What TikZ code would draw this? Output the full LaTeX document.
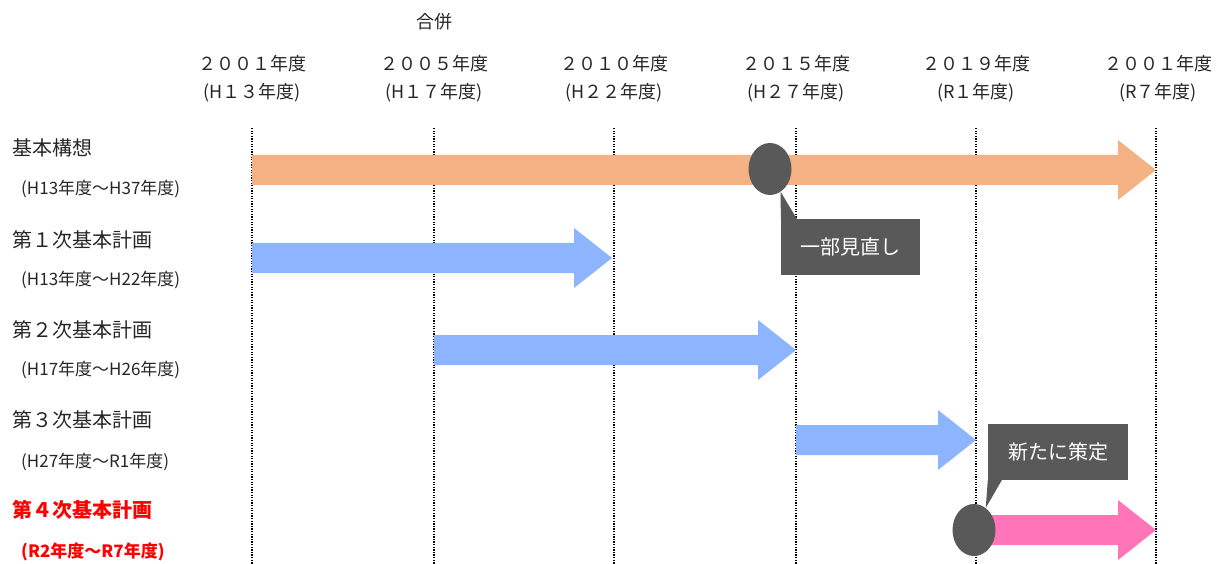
\documentclass[tikz,border=0pt]{standalone}
\usepackage{fontspec}
\setmainfont{Noto Sans CJK JP}
\usetikzlibrary{shapes.geometric,calc}
\definecolor{kousou}{HTML}{F4B183}
\definecolor{keikaku}{HTML}{8DB4FF}
\definecolor{shinki}{HTML}{FF75B8}
\definecolor{fuki}{HTML}{595959}
\definecolor{moji}{HTML}{262626}
\tikzset{
  blockarrow/.style={to path={($(\tikztostart)+(0,-15)$) -- ($(\tikztotarget)+(-38,-15)$)
    -- ($(\tikztotarget)+(-38,-30)$) -- (\tikztotarget) -- ($(\tikztotarget)+(-38,30)$)
    -- ($(\tikztotarget)+(-38,15)$) -- ($(\tikztostart)+(0,15)$) -- cycle}}
}
\begin{document}
\begin{tikzpicture}[x=1pt,y=-1pt, every node/.style={inner sep=0pt, text=moji},
	yearlbl/.style={font=\fontsize{18}{28}\selectfont, align=center},
	planlbl/.style={anchor=west, font=\fontsize{20}{24}\selectfont},
	kikan/.style={anchor=west, font=\fontsize{17}{20}\selectfont},
	grid/.style={line width=1.3pt, dash pattern=on 1.3pt off 1.3pt},
	marker/.style={ellipse, fill=fuki, minimum width=43, minimum height=52},
	callout/.style={fill=fuki, text=white, minimum width=140, minimum height=56, font=\fontsize{20}{24}\selectfont}]
		\useasboundingbox (0,0) rectangle (1221,564);
		
		\node (G) at (434,22) {\fontsize{18}{22}\selectfont 合併};
		\node[yearlbl] (Y1) at (252,79) {２００１年度\\(H１３年度)};
		\node[yearlbl] (Y2) at (434,79) {２００５年度\\(H１７年度)};
		\node[yearlbl] (Y3) at (614,79) {２０１０年度\\(H２２年度)};
		\node[yearlbl] (Y4) at (796,79) {２０１５年度\\(H２７年度)};
		\node[yearlbl] (Y5) at (976,79) {２０１９年度\\(R１年度)};
		\node[yearlbl] (Y6) at (1158,79) {２００１年度\\(R７年度)};
		
		\draw[grid] (252,128) -- (252,564);
		\draw[grid] (434,128) -- (434,564);
		\draw[grid] (614,128) -- (614,564);
		\draw[grid] (796,128) -- (796,564);
		\draw[grid] (976,128) -- (976,564);
		\draw[grid] (1156,128) -- (1156,564);
		
		\node[planlbl] (K) at (12,148) {基本構想};
		\node[kikan] (k) at (21,189) {(H13年度～H37年度)};
		\node[planlbl] (P1) at (12,240) {第１次基本計画};
		\node[kikan] (p1) at (21,280) {(H13年度～H22年度)};
		\node[planlbl] (P2) at (12,330) {第２次基本計画};
		\node[kikan] (p2) at (21,370) {(H17年度～H26年度)};
		\node[planlbl] (P3) at (12,420) {第３次基本計画};
		\node[kikan] (p3) at (21,462) {(H27年度～R1年度)};
		\node[planlbl, text=red, font=\fontsize{20}{24}\selectfont\bfseries] (P4) at (12,510) {第４次基本計画};
		\node[kikan, text=red, font=\fontsize{17}{20}\selectfont\bfseries] (p4) at (21,552) {(R2年度～R7年度)};
		
		\coordinate (A0) at (252,170);
		\coordinate (A1) at (1156,170);
		\coordinate (B0) at (252,258);
		\coordinate (B1) at (612,258);
		\coordinate (C0) at (434,350);
		\coordinate (C1) at (796,350);
		\coordinate (D0) at (796,440);
		\coordinate (D1) at (976,440);
		\coordinate (E0) at (974,530);
		\coordinate (E1) at (1156,530);
		
		\fill[kousou, blockarrow] (A0) to (A1);
		\fill[keikaku, blockarrow] (B0) to (B1);
		\fill[keikaku, blockarrow] (C0) to (C1);
		\fill[keikaku, blockarrow] (D0) to (D1);
		\fill[shinki, blockarrow] (E0) to (E1);
		
		\node[marker] (M1) at (770,169) {};
		\node[marker] (M2) at (974,530) {};
		
		\node[callout, minimum width=139] (C) at (850.5,247) {一部見直し};
		\node[callout] (N) at (1058,452) {新たに策定};
		
		\fill[fuki] (C.north west) -- (M1.-65) -- ($(C.north west)+(16,0)$) -- cycle;
		\fill[fuki] (N.south west) -- (M2.62) -- ($(N.south west)+(14,0)$) -- cycle;
		
	\end{tikzpicture}
\end{document}
